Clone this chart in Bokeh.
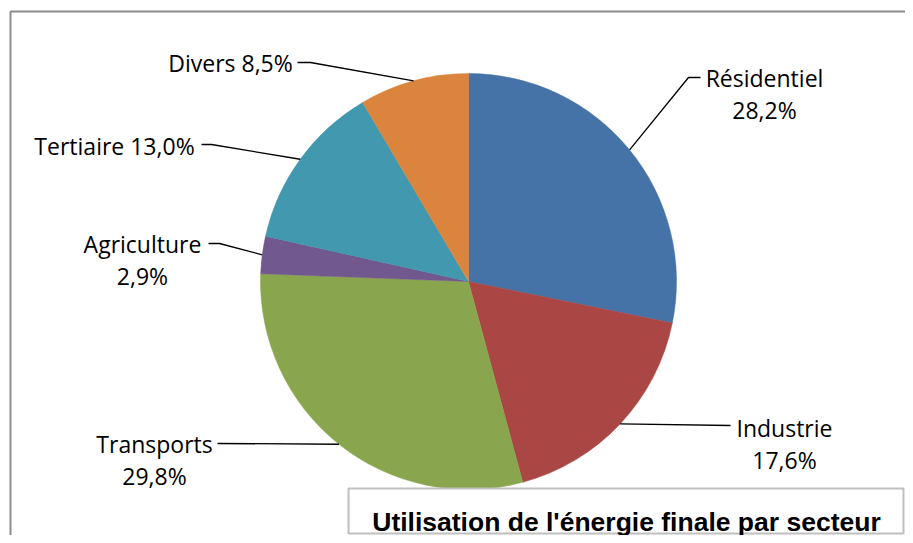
import math
from bokeh.plotting import figure
from bokeh.models import Range1d, ColumnDataSource
from bokeh.core.properties import value
from bokeh.embed import file_html
from bokeh.resources import INLINE

# ---- data ----
sectors = ["Résidentiel", "Industrie", "Transports", "Agriculture", "Tertiaire", "Divers"]
shares = [28.2, 17.6, 29.8, 2.9, 13.0, 8.5]
colors = ["#4572A7", "#AA4643", "#89A54E", "#71588F", "#4198AF", "#DB843D"]
title_text = "Utilisation de l'énergie finale par secteur"

# ---- layout (pixel positions; y measured downward) ----
W, H = 905, 535
cx, cy, R = 468, 281, 208
two_line = [True, True, True, True, False, False]
label_cx = [764, 784, 154, 142, 114, 230]
label_by = [77, 427, 443, 243, 145, 62]
line_gap = 32
elbow = [(688, 77), (730, 425), (217, 443), (219, 243), (211, 144), (310, 62)]
lend = [(700, 77), (730, 425), (217, 443), (208, 243), (201, 144), (297, 62)]

p = figure(width=W, height=H, output_backend="svg", toolbar_location=None,
           x_range=Range1d(0, W), y_range=Range1d(-H, 0),
           min_border=0)
p.axis.visible = False
p.grid.visible = False
p.outline_line_color = None
p.background_fill_color = "white"
p.border_fill_color = "white"

# outer chart border (extends past the picture on right/bottom)
p.quad(left=[10], right=[930], top=[-11], bottom=[-560], fill_color=None,
       line_color="#8C8C8C", line_width=2)

# pie
total = sum(shares)
starts, ends, mids = [], [], []
cum = 0.0
for s in shares:
    a0 = math.pi / 2 - 2 * math.pi * cum / total
    cum += s
    a1 = math.pi / 2 - 2 * math.pi * cum / total
    starts.append(a0)
    ends.append(a1)
    mids.append((a0 + a1) / 2)
src = ColumnDataSource(dict(start=starts, end=ends, color=colors))
p.wedge(x=cx, y=-cy, radius=R, start_angle="start", end_angle="end",
        direction="clock", fill_color="color", line_color="color",
        line_width=0.5, source=src)

# leader lines
xs, ys = [], []
for i, m in enumerate(mids):
    ex = cx + R * math.cos(m)
    ey = cy - R * math.sin(m)
    xs.append([ex, elbow[i][0], lend[i][0]])
    ys.append([-ey, -elbow[i][1], -lend[i][1]])
p.multi_line(xs=xs, ys=ys, line_color="black", line_width=1.3)

# labels
tx, ty, tt = [], [], []
for i, (name, s) in enumerate(zip(sectors, shares)):
    pct = f"{s:.1f}".replace(".", ",") + "%"
    if two_line[i]:
        tx += [label_cx[i], label_cx[i]]
        ty += [-label_by[i], -(label_by[i] + line_gap)]
        tt += [name, pct]
    else:
        tx.append(label_cx[i])
        ty.append(-label_by[i])
        tt.append(f"{name} {pct}")
p.text(x=tx, y=ty, text=tt, text_font=value("Open Sans"), text_font_size="23px",
       text_align="center", text_baseline="alphabetic", text_color="black")

# title box
p.quad(left=[348], right=[903], top=[-488], bottom=[-533], fill_color="white",
       line_color="#BFBFBF", line_width=2)
p.text(x=[626], y=[-521], text=[title_text], text_font=value("Liberation Sans"),
       text_font_size="26.5px", text_font_style="bold", text_align="center",
       text_baseline="alphabetic", text_color="black")

open("out.html", "w").write(file_html(p, INLINE))
